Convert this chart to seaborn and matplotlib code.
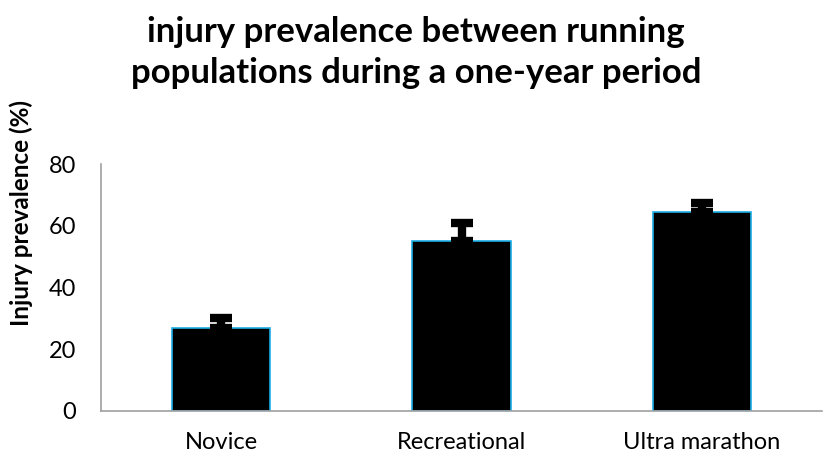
import numpy as np
import pandas as pd
import matplotlib
matplotlib.use("Agg")
import matplotlib.pyplot as plt
import seaborn as sns

groups = ["Novice", "Recreational", "Ultra marathon"]
prevalence = [27, 55, 64.5]
error_up = [3, 6, 3]

sns.set_style("white")
plt.rcParams["font.family"] = ["Lato", "DejaVu Sans"]
plt.rcParams.update({"text.color": "black", "axes.labelcolor": "black",
                     "xtick.color": "black", "ytick.color": "black"})

df = pd.DataFrame({"group": groups, "prevalence": prevalence})

fig = plt.figure(figsize=(8.24, 4.59), dpi=100)
ax = fig.add_axes([0.1226, 0.1046, 0.875, 0.538])

sns.barplot(data=df, x="group", y="prevalence", color="black", width=0.41,
            edgecolor="#1aaee6", linewidth=1.2, saturation=1, ax=ax)

# upward-only error bars
ax.errorbar(np.arange(len(groups)), prevalence,
            yerr=[np.zeros(len(groups)), error_up],
            fmt="none", ecolor="black", elinewidth=6, capsize=8, capthick=6)

ax.set_xlim(-0.5, 2.5)
ax.set_ylim(0, 80)
ax.set_yticks([0, 20, 40, 60, 80])
ax.tick_params(axis="both", length=0, labelsize=17)
ax.tick_params(axis="y", pad=18)
ax.tick_params(axis="x", pad=15)
ax.set_xlabel("")
ax.set_ylabel("Injury prevalence (%)", fontsize=17.5, fontweight="bold")
ax.yaxis.set_label_coords(-0.095, 0.8)

for side in ["top", "right"]:
    ax.spines[side].set_visible(False)
for side in ["left", "bottom"]:
    ax.spines[side].set_color("#a0a0a0")
    ax.spines[side].set_linewidth(1.2)

fig.suptitle("injury prevalence between running\npopulations during a one-year period",
             x=0.505, y=0.965, fontsize=25, fontweight="bold", linespacing=1.33)

fig.savefig("out.png", dpi=100)
